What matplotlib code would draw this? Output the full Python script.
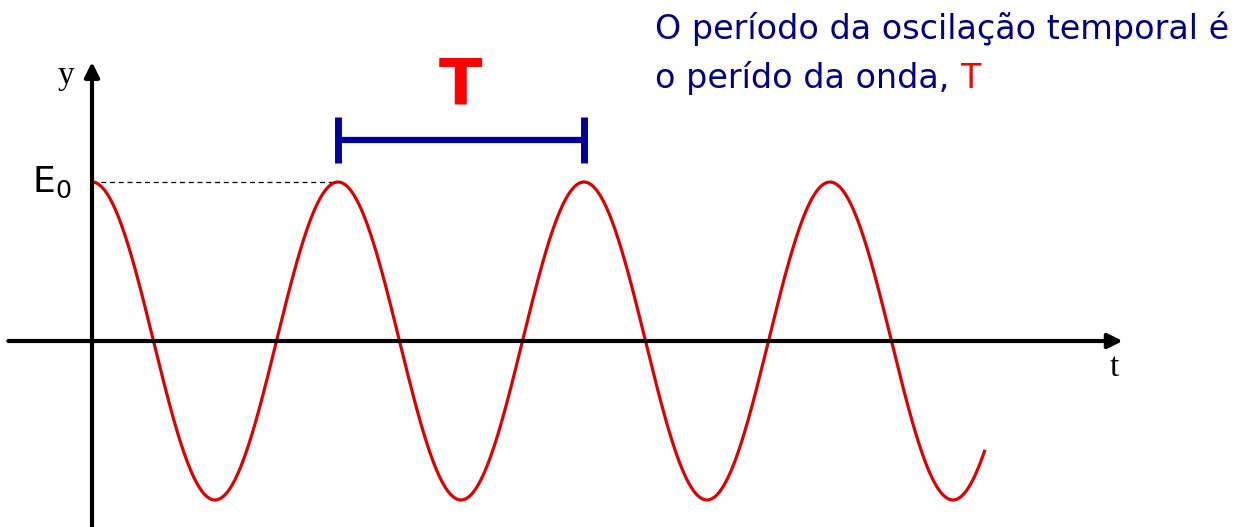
import numpy as np
import matplotlib
matplotlib.use("Agg")
import matplotlib.pyplot as plt

# wave parameters
E0 = 1.0          # amplitude
T = 1.0           # period
t_end = 3.63      # the drawn curve stops a bit after 3.5 periods

# axis extents (in units of T and E0)
x_axis = [-0.34, 4.19]
y_axis = [-1.17, 1.755]

line1 = "O período da oscilação temporal é"
line2 = "o perído da onda, "


def main() -> None:
    fig = plt.figure(figsize=(12.43, 5.27), dpi=100)
    ax = fig.add_axes([0, 0, 1, 1])
    ax.set_xlim(-0.374, 4.679)
    ax.set_ylim(-1.170, 2.145)
    ax.axis("off")

    t = np.linspace(0, t_end, 800)
    y = E0 * np.cos(2 * np.pi * t / T)
    ax.plot(t, y, color="#dd0000", lw=2.3, solid_capstyle="butt", zorder=3)

    # axes with arrows
    arrow = dict(arrowstyle="-|>", lw=3, color="black", mutation_scale=22,
                 shrinkA=0, shrinkB=0)
    ax.annotate("", xy=(x_axis[1], 0), xytext=(x_axis[0], 0), arrowprops=arrow)
    ax.annotate("", xy=(0, y_axis[1]), xytext=(0, y_axis[0]), arrowprops=arrow)

    # dashed line at E0 up to the first peak
    ax.plot([0, T], [E0, E0], color="black", lw=0.9, ls=(0, (4, 3)), zorder=2)

    # period bar
    bar_y = 1.264
    ax.plot([T, 2 * T], [bar_y, bar_y], color="#000099", lw=4.5,
            solid_capstyle="butt")
    for xb in (T, 2 * T):
        ax.plot([xb, xb], [bar_y - 0.145, bar_y + 0.145], color="#000099",
                lw=5, solid_capstyle="butt")
    ax.text(1.5, 1.6, "T", color="#ff0000", fontsize=46, fontweight="bold",
            ha="center", va="center")

    # axis labels
    ax.text(-0.106, 1.67, "y", family="Liberation Serif", fontsize=24,
            ha="center", va="center")
    ax.text(4.154, -0.17, "t", family="Liberation Serif", fontsize=24,
            ha="center", va="center")
    ax.text(-0.083, 1.0, r"E$_\mathregular{0}$", fontsize=26,
            ha="right", va="center")

    # explanation text
    fig.text(655 / 1243, 1 - 12 / 527, line1, color="#000080",
             fontsize=24, ha="left", va="top")
    txt2 = fig.text(655 / 1243, 1 - 61 / 527, line2, color="#000080",
                    fontsize=24, ha="left", va="top")
    ax.annotate("T", xy=(1, 0), xycoords=txt2, color="#ff0000", fontsize=24,
                ha="left", va="bottom")

    fig.savefig("out.png", dpi=100)


if __name__ == '__main__':
    main()
